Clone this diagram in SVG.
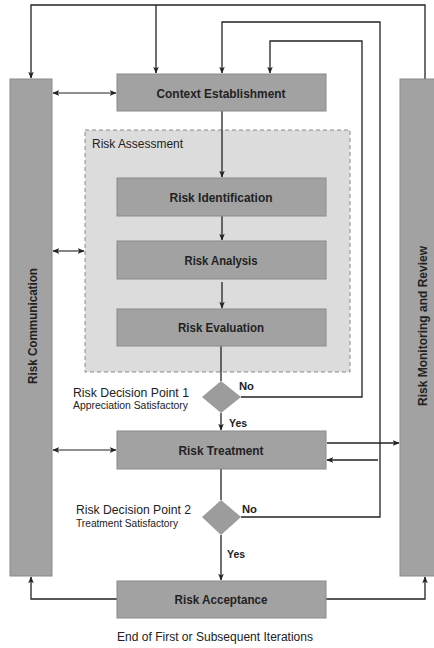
<svg xmlns="http://www.w3.org/2000/svg" width="434" height="648" viewBox="0 0 434 648">
<defs>
<marker id="ah" viewBox="0 0 10 10" refX="9" refY="5" markerWidth="7" markerHeight="7" markerUnits="userSpaceOnUse" orient="auto-start-reverse">
<path d="M0,1 L10,5 L0,9 L2.5,5 Z" fill="#222"/>
</marker>
<style>
.box{fill:#a2a2a2;stroke:#8a8a8a;stroke-width:1}
.bar{fill:#a2a2a2;stroke:#8a8a8a;stroke-width:1}
.dia{fill:#9c9c9c;stroke:none}
.ln{fill:none;stroke:#222;stroke-width:1.3}
.arr{fill:none;stroke:#222;stroke-width:1.3;marker-end:url(#ah)}
.dbl{fill:none;stroke:#222;stroke-width:1.1;marker-end:url(#ah);marker-start:url(#ah)}
.bl{font-family:"Liberation Sans",Arial,sans-serif;font-weight:bold;font-size:12.5px;fill:#222;text-anchor:middle}
.rl{font-family:"Liberation Sans",Arial,sans-serif;font-size:12.5px;fill:#222}
.sl{font-family:"Liberation Sans",Arial,sans-serif;font-size:10px;fill:#222}
.yn{font-family:"Liberation Sans",Arial,sans-serif;font-weight:bold;font-size:11.5px;fill:#222}
</style>
</defs>
<g id="risk-assessment">
<rect x="85" y="130" width="265" height="242" fill="#dcdcdc" stroke="#8a8a8a" stroke-width="1" stroke-dasharray="4,3"/>
<text class="rl" x="92" y="148" textLength="91" lengthAdjust="spacingAndGlyphs">Risk Assessment</text>
</g>
<g id="connectors">
<path class="arr" d="M425,79 V5 H31 V78"/>
<path class="arr" d="M156,5 V73"/>
<path class="arr" d="M241,517 H380 V22 H222 V73"/>
<path class="arr" d="M241,397 H362 V41 H270 V73"/>
<path class="dbl" d="M53,93 H116"/>
<path class="dbl" d="M53,251 H84"/>
<path class="arr" d="M222,111 V177"/>
<path class="arr" d="M222,216 V240"/>
<path class="arr" d="M222,282 V308"/>
<path class="ln" d="M221,346 V381"/>
<path class="arr" d="M221,413 V430"/>
<path class="dbl" d="M53,450 H116"/>
<path class="arr" d="M327,443 H399"/>
<path class="arr" d="M378,460 H327"/>
<path class="ln" d="M221,469 V500"/>
<path class="arr" d="M221,535 V580"/>
<path class="arr" d="M117,599 H31 V577"/>
<path class="arr" d="M326,599 H425 V577"/>
</g>
<g id="risk-communication">
<rect class="bar" x="10" y="79" width="42" height="497"/>
<text class="bl" transform="translate(37,326) rotate(-90)" textLength="116" lengthAdjust="spacingAndGlyphs">Risk Communication</text>
</g>
<g id="risk-monitoring">
<rect class="bar" x="400" y="79" width="44" height="497"/>
<text class="bl" transform="translate(427,326) rotate(-90)" textLength="160" lengthAdjust="spacingAndGlyphs">Risk Monitoring and Review</text>
</g>
<g id="context-establishment">
<rect class="box" x="117" y="74" width="209" height="37"/>
<text class="bl" x="221" y="98" textLength="129" lengthAdjust="spacingAndGlyphs">Context Establishment</text>
</g>
<g id="risk-identification">
<rect class="box" x="117" y="178" width="209" height="38"/>
<text class="bl" x="221" y="202" textLength="103" lengthAdjust="spacingAndGlyphs">Risk Identification</text>
</g>
<g id="risk-analysis">
<rect class="box" x="117" y="241" width="209" height="38"/>
<text class="bl" x="221" y="265" textLength="73" lengthAdjust="spacingAndGlyphs">Risk Analysis</text>
</g>
<g id="risk-evaluation">
<rect class="box" x="117" y="309" width="209" height="37"/>
<text class="bl" x="221" y="332" textLength="86" lengthAdjust="spacingAndGlyphs">Risk Evaluation</text>
</g>
<g id="decision-1">
<polygon class="dia" points="221,381 241,397 221,413 202,397"/>
<text class="rl" x="73" y="397" textLength="116" lengthAdjust="spacingAndGlyphs">Risk Decision Point 1</text>
<text class="sl" x="73" y="409" textLength="115" lengthAdjust="spacingAndGlyphs">Appreciation Satisfactory</text>
<text class="yn" x="239" y="390" textLength="15" lengthAdjust="spacingAndGlyphs">No</text>
<text class="yn" x="229" y="427" textLength="18" lengthAdjust="spacingAndGlyphs">Yes</text>
</g>
<g id="risk-treatment">
<rect class="box" x="117" y="431" width="209" height="38"/>
<text class="bl" x="221" y="455" textLength="85" lengthAdjust="spacingAndGlyphs">Risk Treatment</text>
</g>
<g id="decision-2">
<polygon class="dia" points="221,500 241,517 221,535 202,517"/>
<text class="rl" x="76" y="514" textLength="115" lengthAdjust="spacingAndGlyphs">Risk Decision Point 2</text>
<text class="sl" x="76" y="527" textLength="102" lengthAdjust="spacingAndGlyphs">Treatment Satisfactory</text>
<text class="yn" x="242" y="513" textLength="15" lengthAdjust="spacingAndGlyphs">No</text>
<text class="yn" x="227" y="558" textLength="18" lengthAdjust="spacingAndGlyphs">Yes</text>
</g>
<g id="risk-acceptance">
<rect class="box" x="117" y="581" width="209" height="37"/>
<text class="bl" x="221" y="604" textLength="93" lengthAdjust="spacingAndGlyphs">Risk Acceptance</text>
</g>
<g id="footer">
<text class="rl" x="215" y="641" text-anchor="middle" textLength="196" lengthAdjust="spacingAndGlyphs">End of First or Subsequent Iterations</text>
</g>
</svg>
